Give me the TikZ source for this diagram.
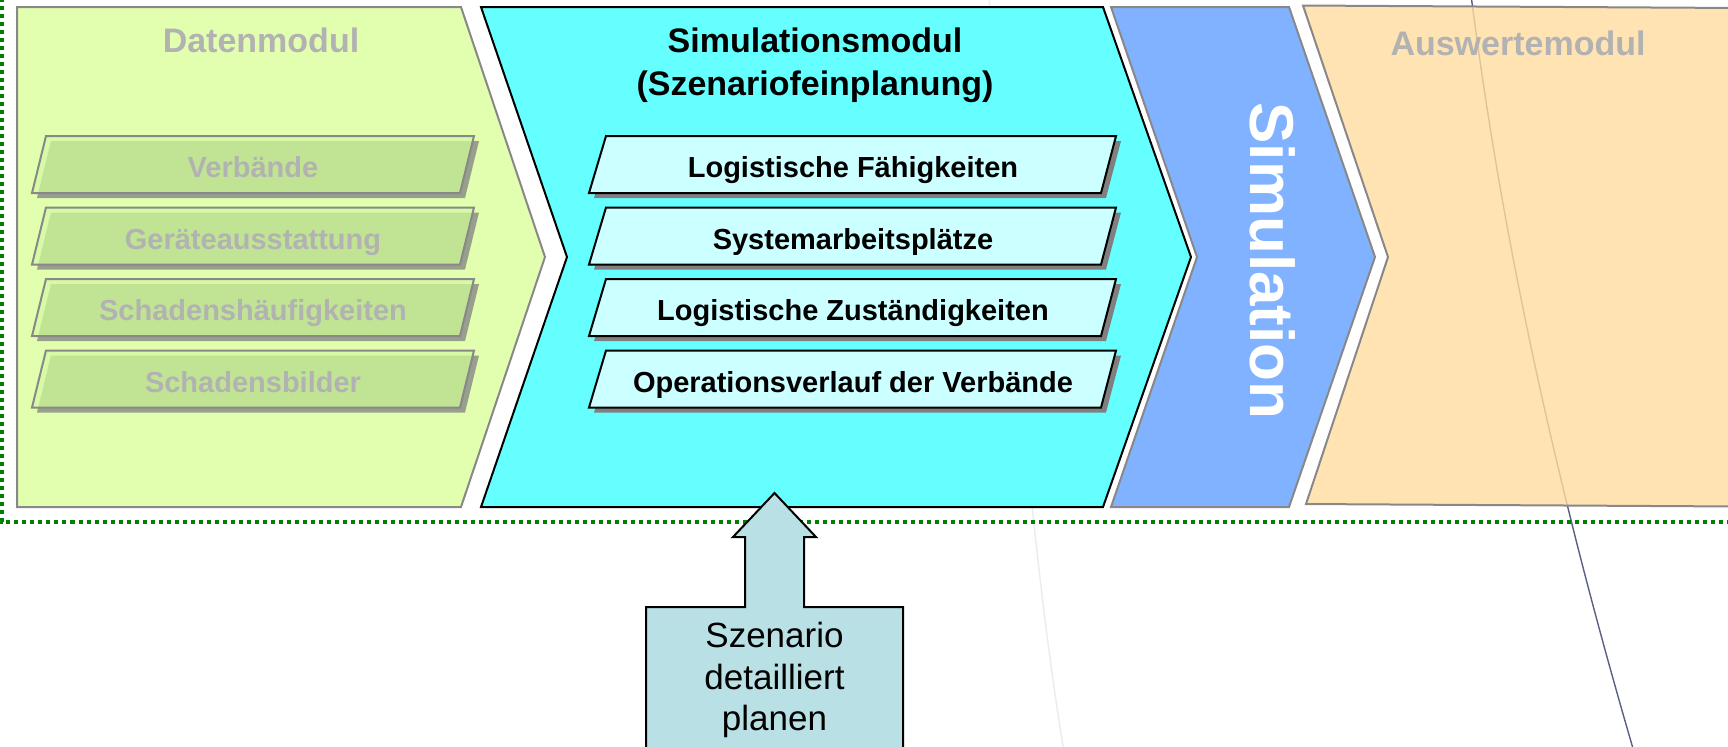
\documentclass[tikz,border=0pt]{standalone}
\usepackage{fontspec}
\setmainfont{Liberation Sans}

\definecolor{datafill}{RGB}{226,255,176}
\definecolor{datarow}{RGB}{192,228,148}
\definecolor{datarowtop}{RGB}{214,250,166}
\definecolor{datashadow}{RGB}{152,160,140}
\definecolor{simfill}{RGB}{102,255,255}
\definecolor{simrow}{RGB}{204,255,255}
\definecolor{rowshadow}{RGB}{128,128,128}
\definecolor{runfill}{RGB}{128,178,255}
\definecolor{evalfill}{RGB}{255,221,159}
\definecolor{callfill}{RGB}{185,224,228}
\definecolor{greytext}{RGB}{178,178,178}
\definecolor{framegreen}{RGB}{0,128,0}
\definecolor{edgegrey}{RGB}{136,136,136}
\definecolor{slateline}{RGB}{90,96,130}
\definecolor{faintline}{RGB}{236,236,236}

% one row of the data module: name, top edge, label
\newcommand{\datarow}[3]{%
  \begin{scope}[shift={(0,#2)}]
    \fill[datashadow] (51,5) -- (479,5) -- (465,62) -- (37,62) -- cycle;
    \fill[datarowtop] (46,0) -- (474,0) -- (460,57) -- (32,57) -- cycle;
    \begin{scope}
      \clip (46,0) -- (474,0) -- (460,57) -- (32,57) -- cycle;
      \fill[datarow] (51,5) -- (479,5) -- (465,62) -- (37,62) -- cycle;
    \end{scope}
    \draw[edgegrey, line width=1pt] (46,0) -- (474,0) -- (460,57) -- (32,57) -- cycle;
    \node[rowtext, text=greytext] (#1) at (253,34.5) {#3};
  \end{scope}}

% one row of the simulation module: name, top edge, label
\newcommand{\simrow}[3]{%
  \begin{scope}[shift={(0,#2)}]
    \fill[rowshadow] (611,5) -- (1121,5) -- (1106,62) -- (594,62) -- cycle;
    \filldraw[fill=simrow, draw=black, line width=1pt]
      (606,0) -- (1116,0) -- (1101,57) -- (589,57) -- cycle;
    \node[rowtext] (#1) at (853,34.5) {#3};
  \end{scope}}

\begin{document}
\begin{tikzpicture}[x=0.5pt, y=-0.5pt, line join=miter,
  title/.style={font=\bfseries\fontsize{17}{20}\selectfont,
    text height=0.72em, text depth=0pt, inner sep=0pt},
  rowtext/.style={font=\bfseries\fontsize{14.5}{17}\selectfont,
    text height=0.72em, text depth=0pt, inner sep=0pt},
  module/.style={line width=1pt}]

\clip (0,0) rectangle (1728,746);
\fill[white] (0,0) rectangle (1728,746);

% thin background strokes
\draw[faintline, line width=0.7pt] (989,-5) .. controls (1010,280) and (1032,560) .. (1064,752);
\draw[slateline, line width=0.7pt] (1471,-5) .. controls (1510,300) and (1578,560) .. (1634,752);

% dotted frame
\draw[framegreen, line width=2pt, dash pattern=on 2pt off 2pt]
  (2,-10) -- (2,521.5) -- (1740,521.5);

% data module
\filldraw[module, fill=datafill, draw=edgegrey]
  (17,7) -- (461,7) -- (545,257) -- (461,507) -- (17,507) -- cycle;
\node[title, text=greytext] (datatitle) at (261,45) {Datenmodul};
\datarow{verb}{136}{Verbände}
\datarow{geraet}{207.5}{Geräteausstattung}
\datarow{haeuf}{279}{Schadenshäufigkeiten}
\datarow{bilder}{350.5}{Schadensbilder}

% simulation module
\filldraw[module, fill=simfill, draw=black]
  (481,7) -- (1103,7) -- (1191,257) -- (1103,507) -- (481,507) -- (567,257) -- cycle;
\node[title] (simtitle) at (815,45) {Simulationsmodul};
\node[title] (simsub) at (815,88) {(Szenariofeinplanung)};
\simrow{faehig}{136}{Logistische Fähigkeiten}
\simrow{platz}{207.5}{Systemarbeitsplätze}
\simrow{zust}{279}{Logistische Zuständigkeiten}
\simrow{verlauf}{350.5}{Operationsverlauf der Verbände}

% simulation run
\filldraw[module, fill=runfill, draw=edgegrey]
  (1111,7) -- (1289,7) -- (1375,257) -- (1289,507) -- (1111,507) -- (1197,257) -- cycle;
\node[rotate=-90, font=\bfseries\fontsize{31}{37}\selectfont, text=white,
  text height=0.72em, text depth=0pt, inner sep=0pt] (run) at (1258,261) {Simulation};

% evaluation module
\filldraw[module, fill=evalfill, fill opacity=0.8, draw=edgegrey]
  (1303,5.5) -- (1740,8) -- (1740,506.5) -- (1306,504) -- (1388,257) -- cycle;
\node[title, text=greytext] (evaltitle) at (1518,48) {Auswertemodul};

% callout feeding the simulation module
\filldraw[fill=callfill, draw=black, line width=1pt]
  (774.5,493) -- (816,537) -- (804,537) -- (804,607) -- (903,607) -- (903,760)
  -- (646,760) -- (646,607) -- (745,607) -- (745,537) -- (733,537) -- cycle;
\node[font=\fontsize{17.5}{20.75}\selectfont, align=center, inner sep=0pt]
  (plan) at (774.5,680) {Szenario\\detailliert\\planen};

\end{tikzpicture}
\end{document}
